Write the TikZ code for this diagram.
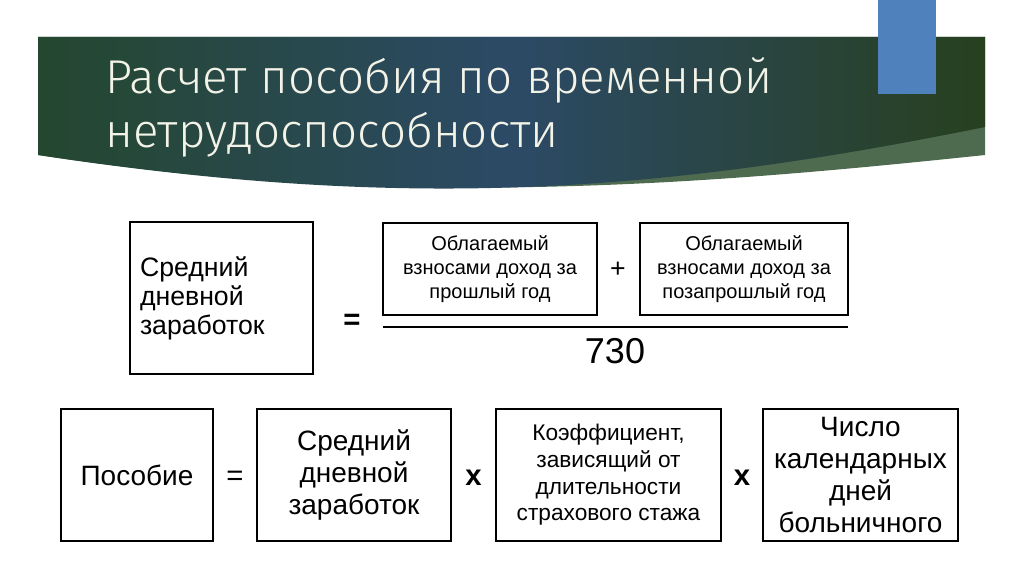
\documentclass[tikz,border=0pt]{standalone}
\usepackage{fontspec}
\setmainfont{Liberation Sans}
\newfontfamily\titlefont{Fira Sans Light}
\usetikzlibrary{positioning, calc}

\definecolor{bannerL}{HTML}{24472F}
\definecolor{bannerM}{HTML}{2C4A66}
\definecolor{bannerR}{HTML}{27401F}
\definecolor{bannerStrip}{HTML}{4E6B50}
\definecolor{tabBlue}{HTML}{4F81BD}
\definecolor{titleCol}{HTML}{F3F3E8}

\begin{document}
\begin{tikzpicture}[
  x=0.75pt, y=-0.75pt,
  box/.style={
    rectangle, draw=black, line width=1.5pt,
    align=center, inner sep=2pt
  },
  rowbox/.style={
    box, minimum height=99pt,
    font=\fontsize{21}{24}\selectfont
  },
  partbox/.style={
    box, minimum height=69pt,
    font=\fontsize{15}{18}\selectfont
  },
  op/.style={font=\fontsize{22}{22}\selectfont, inner sep=0pt},
  boldop/.style={op, font=\fontsize{22}{22}\selectfont\bfseries},
  title/.style={
    anchor=base west, inner sep=0pt, text=titleCol,
    font=\titlefont\fontsize{35.6}{40}\selectfont
  }
]
  \useasboundingbox (0,0) rectangle (1024,574);

  % banner
  \fill[bannerStrip] (38,37) -- (985,37) -- (985,155)
    .. controls (700,185) and (400,210) .. (38,155) -- cycle;
  \shade[left color=bannerL, right color=bannerR, middle color=bannerM]
    (38,37) -- (985,37) -- (985,127)
    .. controls (650,195) and (400,210) .. (38,155) -- cycle;
  \fill[tabBlue] (878,0) rectangle (936,94);

  \node[title] (title1) at (105,94)  {Расчет пособия по временной};
  \node[title] (title2) at (105,147) {нетрудоспособности};

  % average daily pay
  \node[box, minimum height=114pt, text width=122.25pt, inner xsep=7.5pt,
        align=left, font=\fontsize{20}{21.75}\selectfont]
    (avgtop) at (221.5,298) {Средний\\дневной\\заработок};
  \node[boldop] (eqtop) at (352,322) {=};

  \node[partbox, minimum width=160.5pt] (incprev)  at (490,269)
    {Облагаемый\\взносами доход за\\прошлый год};
  \node[op, font=\fontsize{20}{20}\selectfont] (plus) at (618,270) {+};
  \node[partbox, minimum width=156pt]   (incprev2) at (744,269)
    {Облагаемый\\взносами доход за\\позапрошлый год};

  \coordinate (fracL) at (383,327);
  \coordinate (fracR) at (848,327);
  \draw[line width=1.5pt] (fracL) -- (fracR);
  \node[font=\fontsize{27}{27}\selectfont] (denom) at (615,351) {730};

  % benefit
  \node[rowbox, minimum width=114pt] (benefit) at (137,475) {Пособие};
  \node[rowbox, minimum width=145.5pt, right=31.5pt of benefit] (avgpay)
    {Средний\\дневной\\заработок};
  \node[rowbox, minimum width=168.75pt, right=32.25pt of avgpay,
        font=\fontsize{17}{20}\selectfont] (coef)
    {Коэффициент,\\зависящий от\\длительности\\страхового стажа};
  \node[rowbox, minimum width=146.25pt, right=30pt of coef] (days)
    {Число\\календарных\\дней\\больничного};

  \node[op]     (eqrow)  at ($(benefit.east)!0.5!(avgpay.west)+(0,3)$) {=};
  \node[boldop] (mult1)  at ($(avgpay.east)!0.5!(coef.west)+(0,3)$)    {x};
  \node[boldop] (mult2)  at ($(coef.east)!0.5!(days.west)+(0,3)$)      {x};
\end{tikzpicture}
\end{document}
